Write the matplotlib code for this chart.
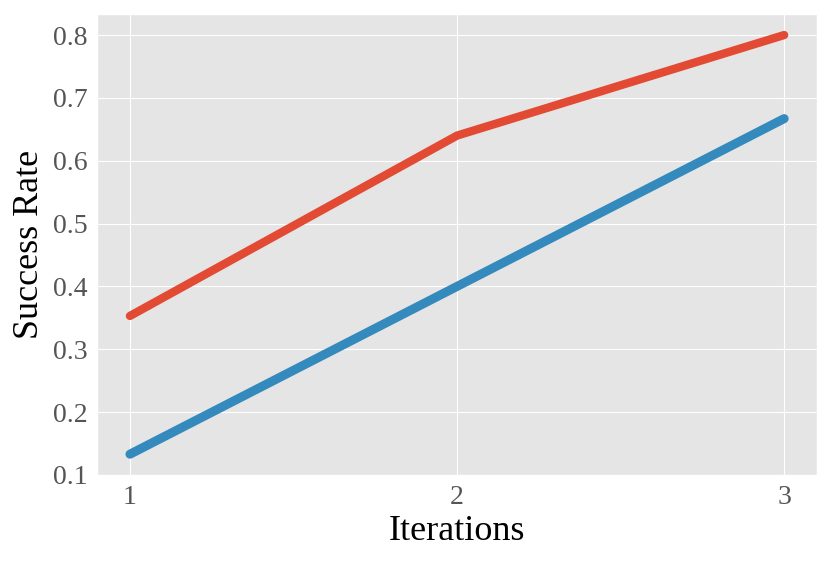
import matplotlib
matplotlib.use("Agg")
import matplotlib.pyplot as plt

iterations = [1, 2, 3]
red_series = [0.353, 0.64, 0.80]
blue_series = [0.133, 0.40, 0.667]

plt.style.use("ggplot")
plt.rcParams["font.family"] = ["Liberation Serif", "DejaVu Serif"]

fig, ax = plt.subplots(figsize=(8.31, 5.63), dpi=100)
ax.plot(iterations, red_series, color="#E24A33", linewidth=6, solid_capstyle="round")
ax.plot(iterations, blue_series, color="#348ABD", linewidth=6.5, solid_capstyle="round")
ax.set_xticks(iterations)
ax.set_xlabel("Iterations", fontsize=26, color="black", labelpad=4)
ax.set_ylabel("Success Rate", fontsize=26, color="black", labelpad=5)
ax.tick_params(labelsize=20, colors="#555555", length=0, pad=7)
fig.subplots_adjust(left=0.117, right=0.983, top=0.975, bottom=0.156)
fig.savefig("out.png", dpi=100)
